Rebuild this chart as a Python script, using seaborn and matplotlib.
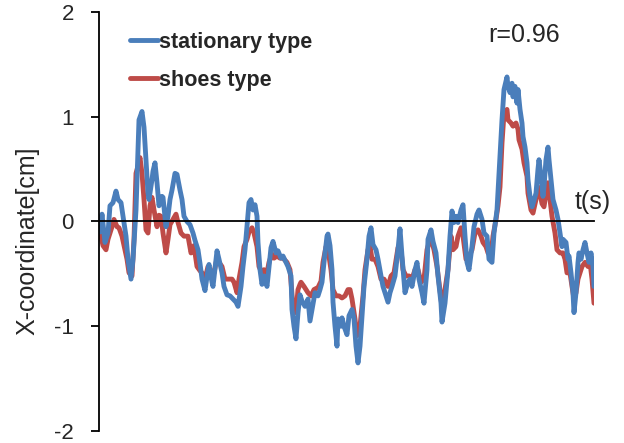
import matplotlib
matplotlib.use("Agg")
import matplotlib.pyplot as plt
import seaborn as sns
import pandas as pd
from matplotlib.lines import Line2D

# ---- data ----
t_stationary = [0.1, 0.3, 0.6, 0.9, 1.1, 1.4, 1.7, 1.9, 2.2, 2.4, 2.7, 2.9, 3.2, 3.4, 3.7, 3.9, 4.0, 4.3, 4.5, 4.7,
                4.9, 5.0, 5.3, 5.4, 5.6, 5.8, 6.0, 6.3, 6.4, 6.7, 6.9, 7.1, 7.3, 7.6, 7.8, 8.1, 8.3, 8.5, 8.8, 9.1,
                9.4, 9.6, 9.9, 10.1, 10.3, 10.6, 10.9, 11.0, 11.3, 11.4, 11.7, 11.8, 12.0, 12.3, 12.5, 12.8, 13.1, 13.4, 13.7, 13.9,
                14.2, 14.4, 14.6, 14.8, 15.0, 15.2, 15.4, 15.6, 15.8, 15.9, 16.1, 16.3, 16.5, 16.8, 17.0, 17.2, 17.4, 17.7, 17.9, 18.2,
                18.4, 18.7, 18.9, 19.2, 19.3, 19.5, 19.7, 19.9, 20.1, 20.3, 20.6, 20.9, 21.1, 21.3, 21.6, 21.9, 22.1, 22.3, 22.5, 22.8,
                22.9, 23.1, 23.3, 23.4, 23.6, 23.8, 23.9, 24.2, 24.3, 24.5, 24.8, 25.0, 25.3, 25.5, 25.7, 25.9, 26.1, 26.3, 26.5, 26.8,
                27.0, 27.2, 27.4, 27.7, 27.9, 28.2, 28.4, 28.7, 28.9, 29.1, 29.3, 29.6, 29.9, 30.1, 30.3, 30.6, 30.9, 31.1, 31.3, 31.6,
                31.8, 32.0, 32.3, 32.5, 32.8, 32.9, 33.2, 33.4, 33.7, 33.9, 34.2, 34.3, 34.6, 34.9, 35.1, 35.3, 35.5, 35.7, 35.9, 36.2,
                36.4, 36.6, 36.8, 37.0, 37.3, 37.5, 37.8, 38.0, 38.3, 38.5, 38.8, 39.0, 39.3, 39.5, 39.8, 40.0, 40.3, 40.5, 40.8, 40.9,
                41.1, 41.3, 41.4, 41.6, 41.8, 41.9, 42.1, 42.3, 42.4, 42.6, 42.8, 42.9, 43.1, 43.3, 43.4, 43.7, 43.9, 44.0, 44.2, 44.4,
                44.5, 44.7, 44.9, 45.0, 45.2, 45.4, 45.7, 45.9, 46.1, 46.3, 46.4, 46.7, 46.9, 47.0, 47.2, 47.4, 47.5, 47.7, 47.9, 48.0,
                48.2, 48.4, 48.6, 48.8, 49.0, 49.2, 49.4, 49.5]
x_stationary = [-0.10, 0.07, -0.20, -0.11, 0.15, 0.18, 0.29, 0.21, 0.18, 0.05, -0.14, -0.36, -0.55, -0.36, 0.11, 0.69, 0.97, 1.05, 0.90, 0.59,
                0.27, 0.21, 0.40, 0.48, 0.56, 0.37, 0.15, 0.24, 0.23, -0.05, 0.05, 0.21, 0.30, 0.46, 0.45, 0.30, 0.21, 0.05, 0.00, -0.03,
                -0.11, -0.18, -0.27, -0.40, -0.55, -0.66, -0.46, -0.41, -0.58, -0.62, -0.36, -0.28, -0.36, -0.49, -0.62, -0.70, -0.71, -0.74, -0.77, -0.81,
                -0.62, -0.43, -0.27, -0.05, 0.18, 0.21, 0.11, 0.16, 0.05, -0.20, -0.46, -0.60, -0.52, -0.62, -0.43, -0.25, -0.19, -0.30, -0.28, -0.35,
                -0.33, -0.39, -0.43, -0.52, -0.84, -1.00, -1.12, -0.87, -0.70, -0.76, -0.81, -0.74, -0.95, -0.84, -0.68, -0.71, -0.65, -0.58, -0.39, -0.14,
                -0.12, -0.23, -0.46, -0.77, -1.00, -1.19, -0.93, -1.00, -0.92, -1.00, -1.08, -0.90, -0.84, -0.93, -1.19, -1.35, -1.19, -0.90, -0.62, -0.36,
                -0.14, -0.06, -0.22, -0.27, -0.36, -0.52, -0.62, -0.71, -0.77, -0.68, -0.62, -0.52, -0.27, -0.07, -0.33, -0.68, -0.58, -0.55, -0.62, -0.46,
                -0.39, -0.55, -0.68, -0.78, -0.46, -0.17, -0.08, -0.19, -0.30, -0.52, -0.78, -0.96, -0.78, -0.46, -0.14, 0.10, -0.01, 0.05, -0.01, 0.11,
                0.16, -0.14, -0.39, -0.46, -0.24, -0.05, 0.07, 0.11, 0.02, -0.11, -0.14, -0.36, -0.39, -0.11, 0.11, 0.45, 0.97, 1.26, 1.38, 1.29,
                1.23, 1.32, 1.19, 1.29, 1.13, 1.26, 1.07, 0.94, 0.81, 0.71, 0.56, 0.40, 0.24, 0.14, 0.17, 0.27, 0.50, 0.59, 0.43, 0.24,
                0.33, 0.59, 0.71, 0.59, 0.40, 0.21, 0.11, 0.02, -0.11, -0.24, -0.17, -0.20, -0.36, -0.33, -0.49, -0.68, -0.87, -0.68, -0.39, -0.30,
                -0.36, -0.27, -0.20, -0.30, -0.39, -0.30, -0.43, -0.62]

t_shoes = [0.1, 0.4, 0.7, 0.9, 1.3, 1.5, 1.8, 2.0, 2.3, 2.5, 2.8, 3.0, 3.3, 3.5, 3.7, 3.9, 4.1, 4.3, 4.5, 4.7,
           4.9, 5.1, 5.3, 5.5, 5.8, 6.0, 6.2, 6.4, 6.7, 6.9, 7.1, 7.4, 7.7, 7.9, 8.2, 8.5, 8.9, 9.2, 9.5, 9.6,
           9.8, 10.1, 10.3, 10.6, 10.9, 11.3, 11.5, 11.8, 12.0, 12.3, 12.6, 12.9, 13.3, 13.5, 13.8, 14.0, 14.3, 14.5, 14.8, 15.0,
           15.3, 15.5, 15.8, 16.0, 16.3, 16.5, 16.8, 17.0, 17.3, 17.5, 17.8, 18.1, 18.4, 18.8, 19.1, 19.4, 19.7, 19.9, 20.1, 20.2,
           20.5, 20.9, 21.2, 21.5, 21.9, 22.2, 22.4, 22.7, 22.9, 23.2, 23.4, 23.7, 24.0, 24.3, 24.6, 24.9, 25.1, 25.3, 25.6, 25.8,
           26.1, 26.4, 26.6, 26.9, 27.1, 27.3, 27.6, 27.9, 28.2, 28.5, 28.9, 29.2, 29.5, 29.9, 30.2, 30.4, 30.7, 31.0, 31.3, 31.6,
           31.9, 32.2, 32.5, 32.8, 33.0, 33.3, 33.5, 33.8, 34.0, 34.3, 34.5, 34.9, 35.2, 35.4, 35.7, 35.9, 36.2, 36.4, 36.7, 36.9,
           37.3, 37.6, 37.9, 38.2, 38.4, 38.7, 38.9, 39.2, 39.4, 39.7, 39.9, 40.1, 40.3, 40.5, 40.8, 40.9, 41.2, 41.4, 41.7, 41.9,
           42.0, 42.3, 42.5, 42.8, 42.9, 43.2, 43.4, 43.7, 43.9, 44.1, 44.3, 44.5, 44.8, 44.9, 45.1, 45.3, 45.6, 45.8, 46.1, 46.4,
           46.6, 46.8, 47.1, 47.3, 47.5, 47.7, 47.9, 48.1, 48.3, 48.6, 48.9, 49.1, 49.3, 49.5]
x_shoes = [-0.10, -0.23, -0.27, -0.17, -0.05, 0.02, -0.05, -0.06, -0.14, -0.23, -0.36, -0.49, -0.52, -0.17, 0.46, 0.53, 0.61, 0.46, 0.21, -0.08,
           -0.11, 0.15, 0.23, 0.11, -0.05, 0.06, 0.05, -0.11, -0.30, -0.17, -0.03, 0.02, 0.07, -0.01, -0.11, -0.14, -0.14, -0.30, -0.23, -0.30,
           -0.43, -0.47, -0.49, -0.55, -0.43, -0.49, -0.49, -0.35, -0.39, -0.43, -0.55, -0.55, -0.55, -0.58, -0.68, -0.55, -0.39, -0.24, -0.17, -0.10,
           -0.06, -0.11, -0.24, -0.43, -0.49, -0.46, -0.49, -0.39, -0.31, -0.35, -0.33, -0.35, -0.35, -0.39, -0.46, -0.81, -0.87, -0.65, -0.60, -0.58,
           -0.62, -0.68, -0.71, -0.65, -0.63, -0.57, -0.39, -0.24, -0.27, -0.46, -0.65, -0.71, -0.71, -0.73, -0.71, -0.65, -0.65, -0.74, -0.93, -1.09,
           -1.00, -0.71, -0.46, -0.27, -0.23, -0.36, -0.36, -0.43, -0.55, -0.55, -0.62, -0.52, -0.49, -0.25, -0.27, -0.46, -0.52, -0.52, -0.55, -0.46,
           -0.46, -0.58, -0.55, -0.27, -0.20, -0.20, -0.27, -0.43, -0.58, -0.81, -0.71, -0.46, -0.14, -0.27, -0.24, -0.14, -0.06, -0.14, -0.36, -0.36,
           -0.27, -0.11, -0.08, -0.14, -0.20, -0.24, -0.30, -0.33, -0.14, 0.02, 0.15, 0.33, 0.75, 1.03, 1.07, 0.97, 0.94, 0.91, 0.94, 0.88,
           0.78, 0.69, 0.56, 0.43, 0.27, 0.11, 0.08, 0.21, 0.33, 0.27, 0.17, 0.14, 0.33, 0.37, 0.21, 0.05, -0.11, -0.27, -0.30, -0.30,
           -0.36, -0.49, -0.49, -0.62, -0.74, -0.68, -0.55, -0.49, -0.43, -0.39, -0.43, -0.39, -0.55, -0.78]

labels = ["stationary type", "shoes type"]
y_ticks = [-2, -1, 0, 1, 2]
y_label = "X-coordinate[cm]"
x_label = "t(s)"
r_text = "r=0.96"

df = pd.concat([
    pd.DataFrame({"t": t_shoes, "x": x_shoes, "series": labels[1]}),
    pd.DataFrame({"t": t_stationary, "x": x_stationary, "series": labels[0]}),
], ignore_index=True)

sns.set_style("white")
plt.rcParams["font.family"] = ["Liberation Sans", "DejaVu Sans"]

fig = plt.figure(figsize=(6.24, 4.43), dpi=100)
ax = fig.add_axes([99 / 624, 12 / 443, 495 / 624, 419 / 443])

palette = {labels[0]: "#4A7EBB", labels[1]: "#BE4B48"}
LW = 3.5
sns.lineplot(data=df, x="t", y="x", hue="series", hue_order=[labels[1], labels[0]],
             palette=palette, estimator=None, sort=False, linewidth=LW, ax=ax, legend=False)

ax.set_xlim(0, 49.5)
ax.set_ylim(-2, 2)
ax.set_yticks(y_ticks)
ax.set_yticklabels([str(v) for v in y_ticks])
ax.set_xticks([])
ax.set_xlabel("")
ax.set_ylabel(y_label, fontsize=18)
ax.yaxis.set_label_coords(-0.12, 0.455)

ax.spines["top"].set_visible(False)
ax.spines["right"].set_visible(False)
ax.spines["left"].set_linewidth(1.3)
ax.spines["left"].set_color("black")
ax.spines["bottom"].set_position(("data", 0))
ax.spines["bottom"].set_linewidth(1.3)
ax.spines["bottom"].set_color("black")
ax.tick_params(axis="y", direction="out", length=6, width=1.3, labelsize=16, pad=12, left=True, color="black")

ax.text(49.4, 0.19, x_label, ha="center", va="center", fontsize=18)
ax.text(42.5, 1.78, r_text, ha="center", va="center", fontsize=18)

handles = [Line2D([], [], color=palette[labels[0]], lw=LW),
           Line2D([], [], color=palette[labels[1]], lw=LW)]
ax.legend(handles, labels, loc="upper left", bbox_to_anchor=(0.0626, 0.953),
          frameon=False, borderpad=0, borderaxespad=0, handlelength=1.3,
          handletextpad=0.05, labelspacing=0.8,
          prop={"weight": "bold", "size": 15.5})

fig.savefig("out.png", dpi=100)
